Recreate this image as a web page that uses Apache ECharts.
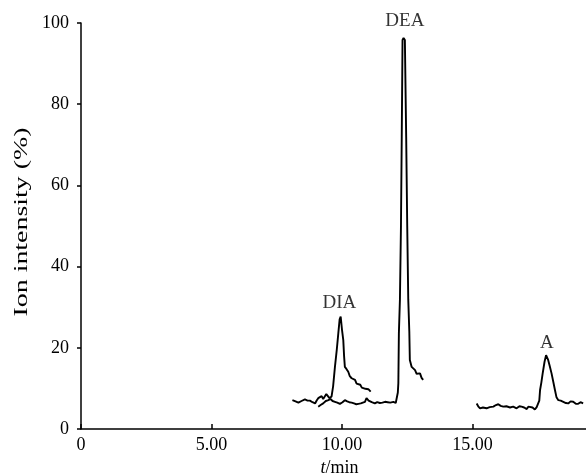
<!DOCTYPE html>
<html>
<head>
<meta charset="utf-8">
<script src="https://cdn.jsdelivr.net/npm/echarts@6/dist/echarts.min.js"></script>
<style>html,body{margin:0;padding:0;background:#fff}#c{width:586px;height:475px}</style>
</head>
<body>
<div id="c"></div>
<script>
// Trace containing the DIA peak
var diaX = [8.10,8.22,8.33,8.45,8.58,8.68,8.77,8.87,8.97,9.03,9.09,9.15,9.22,9.28,9.35,9.40,9.45,9.52,9.60,9.66,9.73,9.80,9.86,9.91,9.95,10.00,10.05,10.08,10.11,10.17,10.24,10.30,10.37,10.44,10.50,10.56,10.62,10.70,10.76,10.82,10.90,10.96,11.01,11.06,11.10];
var diaY = [7.1,6.8,6.5,6.9,7.3,7.0,7.0,6.6,6.3,7.0,7.6,7.2,8.1,7.4,7.6,8.6,8.4,7.6,8.0,10.5,15.3,19.5,23.6,27.0,27.7,24.5,21.9,18.0,15.3,14.8,14.1,13.0,12.5,12.9,12.1,11.2,10.8,10.9,10.2,10.4,9.9,10.3,9.8,9.5,9.2];
// Trace containing the DEA peak
var deaX = [9.09,9.18,9.28,9.38,9.48,9.56,9.64,9.73,9.82,9.92,10.02,10.11,10.20,10.28,10.37,10.46,10.55,10.63,10.72,10.80,10.88,10.94,10.98,11.02,11.07,11.14,11.20,11.26,11.35,11.45,11.55,11.65,11.75,11.85,11.97,12.06,12.10,12.14,12.16,12.18,12.22,12.26,12.29,12.32,12.36,12.41,12.46,12.50,12.54,12.58,12.60,12.67,12.73,12.80,12.86,12.92,12.99,13.05,13.11];
var deaY = [5.5,5.9,6.3,6.9,7.1,7.4,6.9,6.7,6.5,6.2,6.6,7.1,6.8,6.6,6.5,6.3,6.1,6.2,6.3,6.5,6.7,7.6,8.0,7.0,7.1,6.6,6.4,6.3,6.6,6.4,6.5,6.7,6.6,6.5,6.7,6.4,6.3,9.0,11.3,23.6,31.8,50,72,95.8,96.3,95.8,72,50,31.8,24,17,15.3,14.9,14.5,13.6,13.3,13.7,12.6,12.1];
// Trace containing the A peak
var aX = [15.16,15.22,15.29,15.40,15.54,15.66,15.80,15.90,15.99,16.08,16.18,16.30,16.44,16.56,16.69,16.80,16.88,16.98,17.08,17.14,17.20,17.30,17.39,17.46,17.52,17.56,17.59,17.64,17.69,17.76,17.82,17.86,17.90,17.96,18.03,18.10,18.16,18.22,18.29,18.38,18.48,18.58,18.67,18.76,18.86,18.96,19.05,19.14,19.24];
var aY = [6.3,5.6,5.1,5.3,5.1,5.4,5.5,5.9,6.1,5.7,5.5,5.6,5.3,5.5,5.1,5.6,5.5,5.3,4.9,5.5,5.8,5.3,4.8,5.4,5.5,7.0,9.6,11.5,13.7,16.5,18.2,17.8,17.0,15.5,13.7,11.5,9.6,7.8,7.1,7.0,6.7,6.4,6.3,6.8,6.7,6.2,6.2,6.6,6.3];
// Peak annotations
var peakNames = ['DIA','DEA','A'];
var peakX = [9.90,12.41,17.85];
var peakY = [31.0,100.6,21.3];
// Axis texts
var xTickValues = [0,5,10,15];
var xAxisTitle = 't/min';
var yAxisTitle = 'Ion intensity (%)';

function pairs(xs, ys){ return xs.map(function(x,i){ return [x, ys[i]]; }); }

var FONT = '"Liberation Serif","Times New Roman",serif';
var chart = echarts.init(document.getElementById('c'), null, {renderer:'canvas'});
var lineStyle = {color:'#000', width:1.9};
function lineSeries(name, xs, ys){
  return {name:name, type:'line', data:pairs(xs, ys), showSymbol:false, symbol:'none',
    lineStyle:lineStyle, itemStyle:{color:'#000'}, clip:false, silent:true, animation:false};
}
chart.setOption({
  animation:false,
  backgroundColor:'#fff',
  grid:{left:81, right:0, top:23, bottom:46, containLabel:false, outerBoundsMode:'none'},
  xAxis:{
    type:'value', min:0, max:19.35, interval:5,
    axisLine:{lineStyle:{color:'#000', width:1.5}},
    axisTick:{inside:true, length:5, lineStyle:{color:'#000', width:1.5}},
    splitLine:{show:false},
    axisLabel:{color:'#000', fontFamily:FONT, fontSize:18, margin:7, showMaxLabel:false,
      formatter:function(v){ if (xTickValues.indexOf(v) < 0) return ''; return v === 0 ? '0' : v.toFixed(2); }},
    name:'{it|t}/min', nameLocation:'middle', nameGap:26,
    nameTextStyle:{color:'#000', fontFamily:FONT, fontSize:18, padding:[0,0,0,12],
      rich:{it:{fontStyle:'italic', fontFamily:FONT, fontSize:18, color:'#000'}}}
  },
  yAxis:{
    type:'value', min:0, max:100, interval:20,
    axisLine:{show:true, lineStyle:{color:'#000', width:1.5}},
    axisTick:{show:true, inside:false, length:4, lineStyle:{color:'#000', width:1.5}},
    splitLine:{show:false},
    axisLabel:{color:'#000', fontFamily:FONT, fontSize:18, margin:12}
  },
  graphic:[{
    type:'text', x:22, y:222, rotation:Math.PI/2, scaleX:1.55, scaleY:1,
    style:{text:yAxisTitle, fill:'#000', font:'18px ' + FONT, textAlign:'center', textVerticalAlign:'middle'}
  }],
  series:[
    lineSeries('DIA trace', diaX, diaY),
    lineSeries('DEA trace', deaX, deaY),
    lineSeries('A trace', aX, aY),
    {type:'scatter', data:pairs(peakX, peakY), symbolSize:1, itemStyle:{color:'rgba(0,0,0,0)'}, clip:false,
      label:{show:true, position:'inside', color:'#000', fontFamily:FONT, fontSize:19,
        formatter:function(p){ return peakNames[p.dataIndex]; }}, silent:true}
  ]
});
</script>
</body>
</html>
